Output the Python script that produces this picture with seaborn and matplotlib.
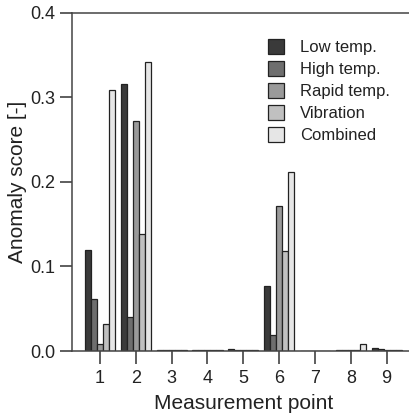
import numpy as np
import pandas as pd
import matplotlib
matplotlib.use('Agg')
import matplotlib.pyplot as plt
import seaborn as sns

points = ['1', '2', '3', '4', '5', '6', '7', '8', '9']
conditions = ['Low temp.', 'High temp.', 'Rapid temp.', 'Vibration', 'Combined']

low_temp = [0.119, 0.315, 0.001, 0.001, 0.002, 0.077, 0.0005, 0.001, 0.004]
high_temp = [0.062, 0.040, 0.001, 0.001, 0.001, 0.019, 0.0005, 0.001, 0.002]
rapid_temp = [0.008, 0.272, 0.001, 0.001, 0.001, 0.171, 0.0005, 0.001, 0.001]
vibration = [0.032, 0.138, 0.001, 0.001, 0.001, 0.118, 0.0005, 0.001, 0.001]
combined = [0.308, 0.342, 0.001, 0.001, 0.001, 0.211, 0.0005, 0.008, 0.001]

colors = ['#3a3a3a', '#6e6e6e', '#9a9a9a', '#c0c0c0', '#e6e6e6']

df = pd.DataFrame({'Low temp.': low_temp, 'High temp.': high_temp,
                   'Rapid temp.': rapid_temp, 'Vibration': vibration,
                   'Combined': combined}, index=points)
long_df = df.reset_index().melt(id_vars='index', var_name='Condition', value_name='Score')
long_df = long_df.rename(columns={'index': 'Point'})

sns.set_style('ticks')
plt.rcParams['font.family'] = ['Liberation Sans', 'DejaVu Sans']

fig = plt.figure(figsize=(4.09, 4.18), dpi=100)
# axes runs past the right edge of the figure, as in the reference
ax = fig.add_axes([72 / 409, 1 - 351 / 418, 344 / 409, 338.5 / 418])

sns.barplot(data=long_df, x='Point', y='Score', hue='Condition',
            hue_order=conditions, palette=colors, width=0.84,
            edgecolor='#222222', linewidth=0.9, saturation=1, ax=ax)

ax.set_xlim(-0.78, 8.82)
ax.set_ylim(0, 0.4)
ax.set_yticks([0.0, 0.1, 0.2, 0.3, 0.4])
ax.set_yticklabels(['0.0', '0.1', '0.2', '0.3', '0.4'])
ax.set_xlabel('Measurement point', fontsize=15, color='#222222', labelpad=5)
ax.set_ylabel('Anomaly score [-]', fontsize=15, color='#222222', labelpad=2)
ax.tick_params(axis='both', labelsize=13, colors='#333333', length=9, width=1.1,
               labelcolor='#222222')
ax.tick_params(axis='x', pad=5)
ax.tick_params(axis='y', pad=3)
for side in ['left', 'top', 'bottom', 'right']:
    ax.spines[side].set_color('#444444')
    ax.spines[side].set_linewidth(1.1)

leg = ax.legend(loc='upper left', bbox_to_anchor=(0.55, 0.94), frameon=False,
                fontsize=12, handlelength=0.95, handleheight=0.95,
                handletextpad=1.0, labelspacing=0.36, borderaxespad=0)
for t in leg.get_texts():
    t.set_color('#222222')

fig.savefig('out.png', dpi=100)
